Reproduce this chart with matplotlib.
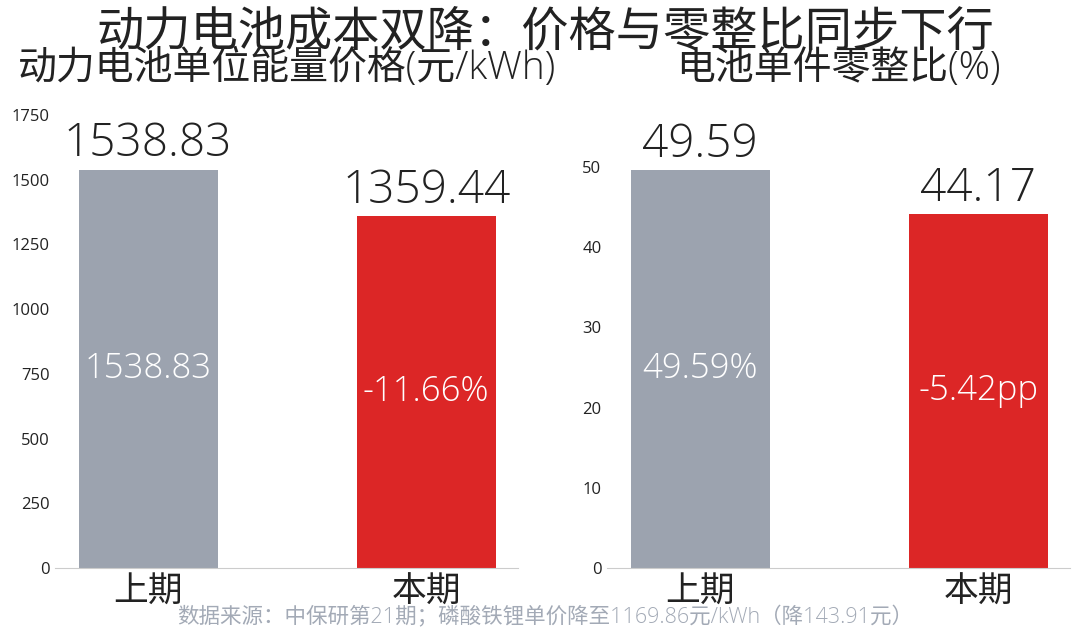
import matplotlib
matplotlib.use('Agg')
import matplotlib.pyplot as plt

plt.rcParams['font.family'] = ['Open Sans', 'Noto Sans CJK SC', 'DejaVu Sans']

periods = ['上期', '本期']
price = [1538.83, 1359.44]
price_inside = ['1538.83', '-11.66%']
ratio = [49.59, 44.17]
ratio_inside = ['49.59%', '-5.42pp']
colors = ['#9ca3af', '#dc2626']

fig = plt.figure(figsize=(10.8, 6.38), dpi=100)
ax1 = fig.add_axes([55 / 1080, 1 - 568 / 638, 463 / 1080, 453 / 638])
ax2 = fig.add_axes([607 / 1080, 1 - 568 / 638, 463 / 1080, 453 / 638])


def draw(ax, vals, inside, title, ylim, ticks):
    x = range(len(vals))
    ax.bar(x, vals, width=0.5, color=colors)
    for i, v in enumerate(vals):
        ax.text(i, v + ylim * 0.005, f'{v:.2f}', ha='center', va='bottom',
                fontsize=33, fontweight='light', color='#222222')
        ax.text(i, v / 2, inside[i], ha='center', va='center',
                fontsize=25, fontweight='light', color='white')
    ax.set_xlim(-0.335, 1.33)
    ax.set_ylim(0, ylim)
    ax.set_yticks(ticks)
    ax.set_xticks(list(x))
    ax.set_xticklabels(periods, fontsize=25, fontweight='light', color='#222222')
    ax.tick_params(axis='y', length=0, labelsize=12, pad=4, colors='#222222')
    ax.tick_params(axis='x', length=0, pad=5)
    for s in ['left', 'right', 'top']:
        ax.spines[s].set_visible(False)
    ax.spines['bottom'].set_color('#cccccc')
    ax.set_title(title, fontsize=28, fontweight='light', pad=26, color='#222222')


draw(ax1, price, price_inside, '动力电池单位能量价格(元/kWh)', 1750,
     [0, 250, 500, 750, 1000, 1250, 1500, 1750])
draw(ax2, ratio, ratio_inside, '电池单件零整比(%)', 56.5, [0, 10, 20, 30, 40, 50])

fig.text(545 / 1080, 1 - 34 / 638, '动力电池成本双降：价格与零整比同步下行',
         ha='center', va='center', fontsize=34, fontweight='light', color='#222222')
fig.text(545 / 1080, 1 - 617 / 638, '数据来源：中保研第21期；磷酸铁锂单价降至1169.86元/kWh（降143.91元）',
         ha='center', va='center', fontsize=15.5, fontweight='light', color='#a3aab6')

fig.savefig('out.png', dpi=100)
